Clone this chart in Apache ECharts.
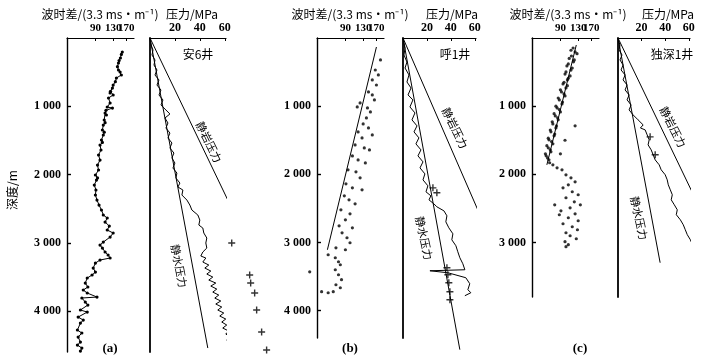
<!DOCTYPE html>
<html>
<head>
<meta charset="utf-8">
<script src="https://cdn.jsdelivr.net/npm/echarts@6/dist/echarts.min.js"></script>
<style>html,body{margin:0;padding:0;background:#fff}#chart{width:723px;height:361px}</style>
</head>
<body>
<div id="chart"></div>
<script>
// [transit time, depth m]
var sonicA = [[157,205],[154,240],[151,293],[147,330],[145,366],[142,420],[145,469],[150,498],[154,542],[139,586],[136,640],[130,689],[128,733],[123,780],[122,806],[130,835],[118,879],[122,952],[115,1011],[128,1026],[112,1060],[110,1099],[113,1128],[108,1201],[110,1240],[106,1275],[104,1348],[108,1380],[106,1421],[102,1494],[104,1530],[99,1568],[101,1641],[96,1714],[99,1788],[94,1861],[96,1934],[90,2007],[94,2050],[92,2081],[88,2154],[91,2227],[90,2300],[93,2374],[97,2447],[102,2520],[106,2593],[115,2637],[110,2696],[120,2755],[115,2813],[130,2857],[122,2916],[106,2989],[99,3033],[104,3077],[110,3135],[117,3179],[122,3223],[99,3253],[90,3297],[86,3370],[90,3429],[84,3472],[76,3516],[73,3590],[77,3648],[70,3692],[76,3736],[93,3795],[68,3809],[73,3868],[77,3912],[66,3985],[76,4015],[63,4088],[70,4132],[66,4176],[62,4278],[68,4322],[63,4381],[66,4454],[62,4498],[68,4542],[66,4586]];
var sonicB = [[186,322],[167,469],[178,542],[157,615],[171,689],[145,791],[157,835],[164,908],[122,952],[115,1011],[142,1026],[151,1084],[139,1172],[130,1260],[145,1319],[117,1377],[127,1465],[157,1421],[110,1568],[133,1612],[148,1641],[104,1729],[117,1788],[136,1832],[95,1934],[112,1963],[122,2051],[91,2139],[104,2198],[127,2227],[88,2315],[97,2374],[110,2432],[82,2520],[99,2579],[90,2667],[79,2755],[104,2784],[84,2857],[93,2930],[99,3003],[74,3077],[90,3106],[63,3179],[73,3223],[78,3282],[81,3326],[73,3399],[78,3472],[83,3545],[74,3619],[81,3663],[63,3736],[55,3721],[43,3429],[70,3721]];
var sonicBTrend = [[171,132],[62,3106]];
var sonicC = [[117,147],[122,205],[113,264],[120,322],[106,381],[115,440],[101,498],[110,557],[104,615],[95,674],[101,733],[92,791],[99,850],[88,908],[93,967],[84,1026],[90,1084],[81,1143],[122,1289],[86,1201],[77,1260],[82,1319],[74,1377],[79,1436],[71,1494],[77,1553],[70,1612],[74,1670],[67,1729],[71,1788],[90,1700],[99,1500],[77,1861],[84,1905],[93,1934],[101,2007],[112,2051],[122,2110],[106,2154],[95,2198],[115,2256],[130,2300],[101,2344],[120,2403],[136,2447],[110,2491],[91,2535],[122,2579],[80,2447],[88,2593],[106,2637],[130,2681],[95,2725],[115,2769],[128,2813],[101,2857],[110,2901],[125,2945],[99,2989],[106,3033],[101,3062],
    [112,180],[127,230],[108,300],[118,350],[103,410],[112,470],[99,530],[106,590],[97,650],[104,700],[90,760],[97,820],[86,880],[94,940],[82,1000],[88,1050],[79,1110],[85,1170],[76,1230],[83,1290],[73,1350],[80,1410],[70,1470],[75,1520],[68,1580],[73,1640],[66,1700],[69,1760],[72,1830]];
var sonicCTrend = [[125,103],[68,1861]];

// [pressure MPa, depth m]
var presA = [[0,15],[0.8,103],[2.4,176],[1.6,249],[4,322],[3.2,396],[5.6,469],[4,542],[7.2,615],[5.6,689],[8.8,762],[7.2,835],[10.4,908],[8.8,982],[12.8,1055],[16,1113],[12,1172],[14.4,1245],[12.8,1319],[16,1392],[14.4,1465],[17.6,1538],[16,1612],[19.2,1685],[17.6,1758],[20,1832],[18.4,1905],[21.6,1978],[20.8,2051],[24,2125],[22.4,2183],[26.4,2227],[25.6,2300],[29.6,2374],[32,2447],[33.6,2520],[38.4,2593],[40,2667],[39.2,2740],[42.4,2784],[43.2,2857],[45.6,2930],[44.8,3003],[45.6,3077],[42.4,3135],[40.8,3194],[44.8,3223],[42.4,3282],[47.2,3326],[44,3370],[48.8,3414],[45.6,3458],[50.4,3502],[47.2,3546],[52.8,3590],[48.8,3634],[53.6,3678],[50.4,3722],[55.2,3766],[52,3810],[56.8,3853],[52.8,3897],[57.6,3941],[54.4,3985],[59.2,4029],[56,4073],[60.8,4117],[57.6,4161],[61.6,4205],[58.4,4249],[63.2,4293],[60.8,4337],[64.8,4381],[61.6,4425],[65.6,4469],[63.2,4513],[67.2,4557],[64.8,4601]];
var presAPlus = [[65.6,3003],[80,3472],[80.8,3589],[84,3736],[85.6,3985],[89.6,4307],[93.6,4571]];
var lithoA = [[0,0],[77.6,2950]];
var hydroA = [[0,0],[46.4,4542]];

var presB = [[0,15],[1.7,147],[0.8,249],[3.3,352],[1.7,440],[5,542],[3.3,645],[6.7,733],[4.2,835],[8.3,908],[5.8,1011],[10,1099],[7.5,1201],[11.7,1289],[9.2,1377],[13.3,1465],[10.8,1553],[15,1641],[12.5,1729],[16.7,1817],[14.2,1905],[18.3,1993],[16.7,2081],[20.8,2168],[19.2,2256],[23.3,2315],[21.7,2374],[25.8,2432],[28.3,2476],[34.2,2535],[36.7,2608],[35.8,2696],[38.3,2784],[41.7,2872],[40.8,2960],[44.2,3047],[45.8,3135],[47.5,3223],[50,3311],[51.7,3399],[22.5,3414],[37.5,3443],[52.5,3516],[55.8,3604],[54.2,3692],[56.7,3736],[51.7,3780]];
var presBPlus = [[25,2198],[28.3,2270],[36.7,3370],[37.5,3472],[38.3,3590],[39.2,3722],[39.2,3839]];
var lithoB = [[0,0],[62.5,2520]];
var hydroB = [[0,0],[47.5,4571]];

var presC = [[0,15],[1.7,103],[0.9,176],[3.4,249],[1.7,322],[4.3,396],[2.6,469],[6,542],[4.3,615],[7.7,689],[6,762],[9.4,835],[7.7,908],[11.1,982],[9.4,1055],[12.8,1128],[17,1201],[21.3,1275],[19,1320],[23,1348],[24.7,1421],[26.4,1494],[25.5,1568],[28.1,1641],[29.8,1714],[31.5,1788],[34.9,1861],[36.6,1934],[40,2007],[41.7,2081],[42.6,2154],[44.3,2227],[46,2300],[45.1,2374],[47.7,2447],[50.2,2520],[49.4,2593],[52.8,2667],[55.3,2740],[57,2813],[58.7,2886],[61.3,2960],[63.8,3062]];
var presCPlus = [[27.2,1450],[31.5,1714]];
var lithoC = [[0,0],[84.3,3033]];
var hydroC = [[0,0],[35.7,3297]];

var sonicTicks = [90, 130, 170];
var sonicOuterLabels = [90, 170];
var sonicMidLabels = [130];
var presTicks = [20, 40, 60];
var depthTicks = [1000, 2000, 3000, 4000];

var serif = 'Liberation Serif';
var cjk = 'Noto Sans CJK SC';
var plus = 'path://M4,0H6V4H10V6H6V10H4V6H0V4H4Z';

var myChart = echarts.init(document.getElementById('chart'));

var grids = [
    {left: 67, top: 38, width: 67, height: 314},
    {left: 150, top: 38, width: 76, height: 314},
    {left: 317, top: 38, width: 67, height: 300},
    {left: 403, top: 38, width: 73, height: 300},
    {left: 532, top: 38, width: 67, height: 259},
    {left: 618, top: 38, width: 72, height: 259}
];
var depthMax = [4600, 4600, 4400, 4400, 3800, 3800];

var labelFont = {fontFamily: serif, fontWeight: 'bold', color: '#000'};

var xAxes = grids.map(function (g, i) {
    var sonic = i % 2 === 0;
    return {
        gridIndex: i,
        type: sonic ? 'log' : 'value',
        logBase: 10,
        position: 'top',
        min: sonic ? 50 : 0,
        max: sonic ? 200 : 61,
        axisLine: {lineStyle: {color: '#000', width: 1.2}},
        axisTick: {inside: true, length: 3, customValues: sonic ? sonicTicks : presTicks, lineStyle: {color: '#000'}},
        axisLabel: echarts.util.extend({customValues: sonic ? sonicOuterLabels : presTicks, margin: 4,
            hideOverlap: false, showMinLabel: true, showMaxLabel: true, fontSize: sonic ? 11 : 12}, labelFont),
        splitLine: {show: false}
    };
});
// label-only axes carrying the middle sonic label (kept apart so it is not hidden by overlap)
[0, 2, 4].forEach(function (gi) {
    xAxes.push({
        gridIndex: gi, type: 'log', logBase: 10, position: 'top', min: 50, max: 200,
        axisLine: {show: false}, axisTick: {show: false}, splitLine: {show: false},
        axisLabel: echarts.util.extend({customValues: sonicMidLabels, margin: 4, fontSize: 11,
            showMinLabel: true, showMaxLabel: true}, labelFont)
    });
});

var yAxes = grids.map(function (g, i) {
    var sonic = i % 2 === 0;
    return {
        gridIndex: i,
        type: 'value',
        inverse: true,
        min: 0,
        max: depthMax[i],
        axisLine: {show: true, lineStyle: {color: '#000', width: sonic ? 1.4 : 1.8}},
        axisTick: {show: sonic, inside: true, length: 4, customValues: depthTicks, lineStyle: {color: '#000', width: 1.4}},
        axisLabel: echarts.util.extend({show: sonic, customValues: depthTicks, margin: 6, fontSize: 12,
            formatter: function (v) { return String(v).replace(/\B(?=(\d{3})+(?!\d))/g, ' '); }}, labelFont),
        splitLine: {show: false}
    };
});

function line(idx, data, w) {
    return {type: 'line', xAxisIndex: idx, yAxisIndex: idx, data: data, symbol: 'none', clip: false,
        lineStyle: {color: '#000', width: w || 1}};
}
function dots(idx, data, size) {
    return {type: 'scatter', xAxisIndex: idx, yAxisIndex: idx, data: data, symbol: 'circle',
        symbolSize: size || 3.2, clip: false, itemStyle: {color: '#000'}};
}
function crosses(idx, data) {
    return {type: 'scatter', xAxisIndex: idx, yAxisIndex: idx, data: data, symbol: plus,
        symbolSize: 7, clip: false, itemStyle: {color: '#000'}};
}

var series = [
    {type: 'line', xAxisIndex: 0, yAxisIndex: 0, data: sonicA, symbol: 'circle', symbolSize: 3.2, clip: false,
        itemStyle: {color: '#000'}, lineStyle: {color: '#000', width: 1}},
    line(1, presA), line(1, lithoA), line(1, hydroA), crosses(1, presAPlus),
    dots(2, sonicB), line(2, sonicBTrend),
    line(3, presB), line(3, lithoB), line(3, hydroB), crosses(3, presBPlus),
    dots(4, sonicC), line(4, sonicCTrend),
    line(5, presC), line(5, lithoC), line(5, hydroC), crosses(5, presCPlus)
];

function txt(x, y, s, opt) {
    opt = opt || {};
    return {type: 'text', x: x, y: y, rotation: opt.rot || 0,
        style: {text: s, fill: '#000', font: (opt.weight || 'normal') + ' ' + (opt.size || 12) + 'px ' + (opt.font || cjk),
            align: 'center', verticalAlign: 'middle'}};
}
var rl = function (deg) { return -deg * Math.PI / 180; };

var graphics = [
    txt(100, 14, '波时差/(3.3 ms・m⁻¹)', {size: 12}),
    txt(192, 14, '压力/MPa', {size: 12}),
    txt(350, 14, '波时差/(3.3 ms・m⁻¹)', {size: 12}),
    txt(452, 14, '压力/MPa', {size: 12}),
    txt(568, 14, '波时差/(3.3 ms・m⁻¹)', {size: 12}),
    txt(668, 14, '压力/MPa', {size: 12}),
    txt(198, 54, '安6井', {size: 12}),
    txt(455, 54, '呼1井', {size: 12}),
    txt(672, 54, '独深1井', {size: 12}),
    txt(209, 142, '静岩压力', {size: 11, rot: rl(64)}),
    txt(179, 266, '静水压力', {size: 11, rot: rl(79)}),
    txt(455, 128, '静岩压力', {size: 11, rot: rl(64)}),
    txt(424, 238, '静水压力', {size: 11, rot: rl(78)}),
    txt(673, 127, '静岩压力', {size: 11, rot: rl(63)}),
    txt(639, 218, '静水压力', {size: 11, rot: rl(78)}),
    txt(110, 349, '(a)', {size: 13, font: serif, weight: 'bold'}),
    txt(350, 349, '(b)', {size: 13, font: serif, weight: 'bold'}),
    txt(580, 349, '(c)', {size: 13, font: serif, weight: 'bold'}),
    txt(12, 190, '深度/m', {size: 12, rot: Math.PI / 2})
];

myChart.setOption({
    animation: false,
    backgroundColor: '#fff',
    grid: grids,
    xAxis: xAxes,
    yAxis: yAxes,
    series: series,
    graphic: graphics
});
</script>
</body>
</html>
